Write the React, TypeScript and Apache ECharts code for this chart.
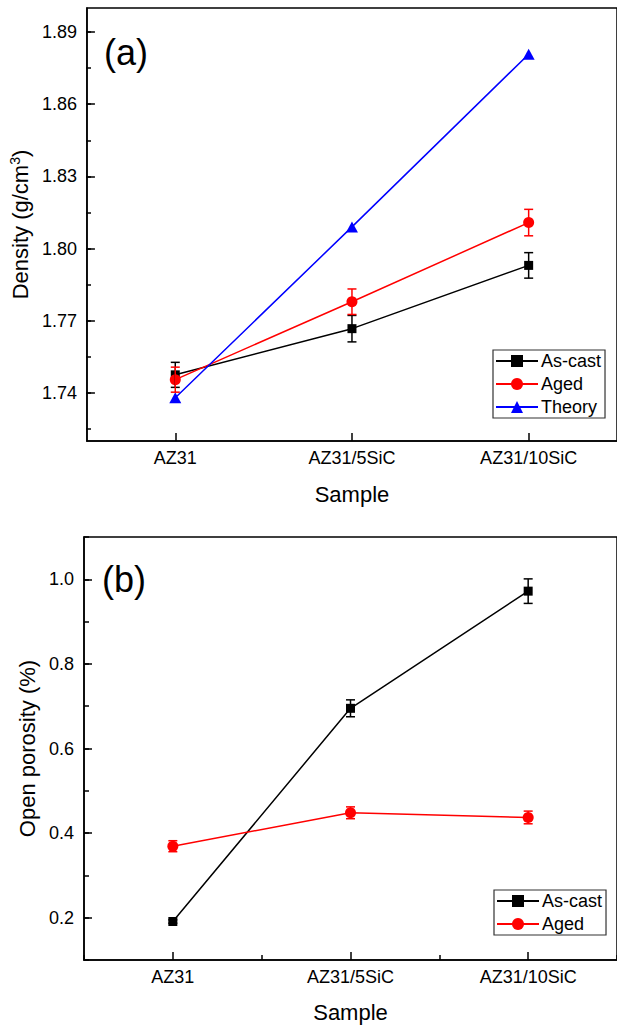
import React, { useEffect, useRef } from "react";
import * as echarts from "echarts";

const categories = ["AZ31", "AZ31/5SiC", "AZ31/10SiC"];

const densityAsCast = [1.7475, 1.7667, 1.793];
const densityAsCastErr = [0.0052, 0.0055, 0.0053];
const densityAged = [1.7455, 1.7779, 1.8108];
const densityAgedErr = [0.0052, 0.0053, 0.0055];
const densityTheory = [1.738, 1.809, 1.8808];

const porosityAsCast = [0.191, 0.695, 0.972];
const porosityAsCastErr = [0.004, 0.02, 0.029];
const porosityAged = [0.369, 0.448, 0.437];
const porosityAgedErr = [0.013, 0.014, 0.015];

const densityTicks = { min: 1.72, max: 1.9, minorMin: 1.725, minorMax: 1.89, minorStep: 0.015 };
const porosityTicks = { min: 0.1, max: 1.1, minorStep: 0.1 };

const FONT = "Liberation Sans, Arial, Helvetica, sans-serif";

const errData = (vals: number[], errs: number[]) =>
  vals.map((v, i) => [i, v - errs[i], v + errs[i]]);

const errorBarSeries = (
  name: string,
  vals: number[],
  errs: number[],
  color: string,
  xAxisIndex: number,
  yAxisIndex: number
) => ({
  type: "custom",
  name,
  xAxisIndex,
  yAxisIndex,
  z: 5,
  silent: true,
  encode: { x: 0, y: [1, 2] },
  data: errData(vals, errs),
  renderItem: (params: any, api: any) => {
    const x = api.value(0);
    const lo = api.coord([x, api.value(1)]);
    const hi = api.coord([x, api.value(2)]);
    const hw = 4.5;
    const style = { stroke: color, lineWidth: 1.5 };
    return {
      type: "group",
      children: [
        { type: "line", shape: { x1: lo[0], y1: lo[1], x2: hi[0], y2: hi[1] }, style },
        { type: "line", shape: { x1: lo[0] - hw, y1: lo[1], x2: lo[0] + hw, y2: lo[1] }, style },
        { type: "line", shape: { x1: hi[0] - hw, y1: hi[1], x2: hi[0] + hw, y2: hi[1] }, style },
      ],
    };
  },
});

const lineSeries = (
  name: string,
  vals: number[],
  color: string,
  symbol: string,
  symbolSize: any,
  xAxisIndex: number,
  yAxisIndex: number,
  z: number
) => ({
  type: "line",
  name,
  xAxisIndex,
  yAxisIndex,
  z,
  data: vals,
  symbol,
  symbolSize,
  showSymbol: true,
  lineStyle: { color, width: 1.5 },
  itemStyle: { color, borderWidth: 0 },
});

const axisLineStyle = { show: true, lineStyle: { color: "#000", width: 1.5 } };
const tick = (length: number, alignWithLabel?: boolean) => ({
  show: true,
  inside: true,
  length,
  alignWithLabel,
  lineStyle: { color: "#000", width: 1.5 },
});

export default function App() {
  const ref = useRef<HTMLDivElement>(null);

  useEffect(() => {
    if (!ref.current) return;
    const chart = echarts.init(ref.current, null, { renderer: "svg" });

    const gA = { left: 86, top: 8, width: 543, height: 433 };
    const ppu = gA.height / (densityTicks.max - densityTicks.min);
    const gAminorTop = gA.top + (densityTicks.max - densityTicks.minorMax) * ppu;
    const gAminorBottom = gA.top + (densityTicks.max - densityTicks.minorMin) * ppu;
    const gB = { left: 84, top: 537, width: 536, height: 423 };

    const catAxisMain = (gridIndex: number, nameGap: number) => ({
      type: "category",
      gridIndex,
      position: "bottom",
      data: categories,
      boundaryGap: true,
      axisLine: axisLineStyle,
      axisTick: tick(8, true),
      axisLabel: { color: "#000", fontSize: 18, fontFamily: FONT, margin: 8 },
      splitLine: { show: false },
      name: "Sample",
      nameLocation: "middle",
      nameGap,
      nameTextStyle: { color: "#000", fontSize: 22, fontFamily: FONT },
    });

    const legendBase = {
      orient: "vertical",
      itemWidth: 42,
      itemHeight: 15,
      itemGap: 5,
      padding: [2, 4, 2, 2],
      borderColor: "#333",
      borderWidth: 1.2,
      textStyle: { color: "#000", fontSize: 18, fontFamily: FONT, padding: [0, 0, 0, -2] },
    };

    const option: any = {
      animation: false,
      backgroundColor: "#fff",
      textStyle: { fontFamily: FONT },
      grid: [
        { ...gA, show: true, borderColor: "#000", borderWidth: 1.5, containLabel: false },
        { left: gA.left, top: gAminorTop, width: gA.width, height: gAminorBottom - gAminorTop, show: false },
        { ...gB, show: true, borderColor: "#000", borderWidth: 1.5, containLabel: false },
      ],
      xAxis: [
        catAxisMain(0, 42),
        { type: "category", gridIndex: 1, data: categories, show: false },
        catAxisMain(2, 41),
        {
          type: "category",
          gridIndex: 2,
          position: "bottom",
          offset: 0,
          data: categories,
          boundaryGap: true,
          axisLine: { show: false },
          axisTick: tick(5, false),
          axisLabel: { show: false },
          splitLine: { show: false },
        },
      ],
      yAxis: [
        {
          type: "value",
          gridIndex: 0,
          position: "left",
          min: densityTicks.min,
          max: densityTicks.max,
          splitNumber: 6,
          axisLine: axisLineStyle,
          axisTick: tick(8),
          axisLabel: {
            color: "#000",
            fontSize: 18,
            fontFamily: FONT,
            margin: 10,
            showMinLabel: false,
            showMaxLabel: false,
            formatter: (v: number) => v.toFixed(2),
          },
          splitLine: { show: false },
          name: "Density (g/cm{sup|3})",
          nameLocation: "middle",
          nameGap: 41,
          nameRotate: 90,
          nameTextStyle: {
            color: "#000",
            fontSize: 22,
            fontFamily: FONT,
            rich: { sup: { fontSize: 14, color: "#000", fontFamily: FONT, padding: [0, 0, 10, 0] } },
          },
        },
        {
          type: "value",
          gridIndex: 1,
          position: "left",
          min: densityTicks.minorMin,
          max: densityTicks.minorMax,
          interval: densityTicks.minorStep,
          axisLine: { show: false },
          axisTick: tick(5),
          axisLabel: { show: false },
          splitLine: { show: false },
        },
        {
          type: "value",
          gridIndex: 2,
          position: "left",
          min: porosityTicks.min,
          max: porosityTicks.max,
          splitNumber: 5,
          axisLine: axisLineStyle,
          axisTick: tick(8),
          axisLabel: {
            color: "#000",
            fontSize: 18,
            fontFamily: FONT,
            margin: 10,
            showMinLabel: false,
            showMaxLabel: false,
            formatter: (v: number) => v.toFixed(1),
          },
          splitLine: { show: false },
          name: "Open porosity (%)",
          nameLocation: "middle",
          nameGap: 33,
          nameRotate: 90,
          nameTextStyle: { color: "#000", fontSize: 22, fontFamily: FONT },
        },
        {
          type: "value",
          gridIndex: 2,
          position: "left",
          offset: 0,
          min: porosityTicks.min,
          max: porosityTicks.max,
          interval: porosityTicks.minorStep,
          axisLine: { show: false },
          axisTick: tick(5),
          axisLabel: { show: false },
          splitLine: { show: false },
        },
      ],
      legend: [
        { ...legendBase, data: ["As-cast", "Aged", "Theory"], left: 493, top: 350 },
        { ...legendBase, data: ["As-cast", "Aged"], left: 494, top: 890 },
      ],
      graphic: [
        { type: "text", left: 104, top: 34, style: { text: "(a)", fontSize: 36, fontFamily: FONT, fill: "#000" } },
        { type: "text", left: 102, top: 561, style: { text: "(b)", fontSize: 36, fontFamily: FONT, fill: "#000" } },
      ],
      series: [
        errorBarSeries("err-ascast-a", densityAsCast, densityAsCastErr, "#000", 0, 0),
        errorBarSeries("err-aged-a", densityAged, densityAgedErr, "#ff0000", 0, 0),
        lineSeries("As-cast", densityAsCast, "#000000", "rect", 9, 0, 0, 2),
        lineSeries("Aged", densityAged, "#ff0000", "circle", 11, 0, 0, 3),
        lineSeries("Theory", densityTheory, "#0000ff", "triangle", [12, 11], 0, 0, 4),
        errorBarSeries("err-ascast-b", porosityAsCast, porosityAsCastErr, "#000", 2, 2),
        errorBarSeries("err-aged-b", porosityAged, porosityAgedErr, "#ff0000", 2, 2),
        lineSeries("As-cast", porosityAsCast, "#000000", "rect", 9, 2, 2, 2),
        lineSeries("Aged", porosityAged, "#ff0000", "circle", 11, 2, 2, 3),
      ],
    };

    chart.setOption(option);
    return () => chart.dispose();
  }, []);

  return (
    <div
      ref={ref}
      style={{ position: "absolute", left: 0, top: 0, width: 617, height: 1025, background: "#fff" }}
    />
  );
}
